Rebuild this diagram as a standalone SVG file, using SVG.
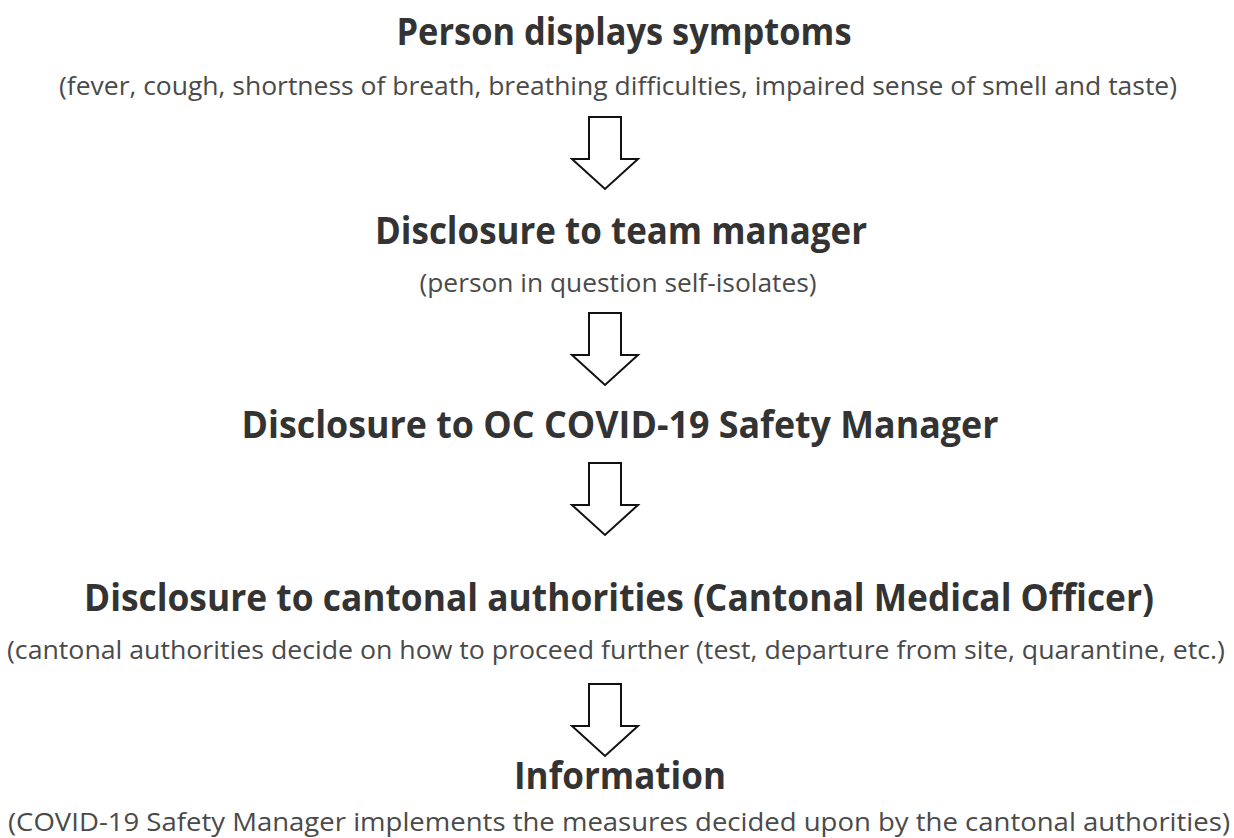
<svg xmlns="http://www.w3.org/2000/svg" width="1234" height="838" viewBox="0 0 1234 838">
<defs>
<style>
.t{font-family:"Open Sans","Liberation Sans",sans-serif;font-weight:bold;font-size:37px;fill:#333;text-anchor:middle}
.s{font-family:"Open Sans","Liberation Sans",sans-serif;font-size:25px;fill:#4a4a4a;text-anchor:middle}
.a{fill:#fff;stroke:#111;stroke-width:2;stroke-linejoin:miter}
</style>
<polygon id="arr" class="a" points="-16,0 16,0 16,42 33,42 0,72 -33,42 -16,42"/>
</defs>
<rect width="1234" height="838" fill="#fff"/>
<g id="n1">
<text class="t" x="624" y="45" textLength="455" lengthAdjust="spacingAndGlyphs">Person displays symptoms</text>
<text class="s" x="618" y="95" textLength="1118" lengthAdjust="spacingAndGlyphs">(fever, cough, shortness of breath, breathing difficulties, impaired sense of smell and taste)</text>
</g>
<g id="n2">
<text class="t" x="621" y="244" textLength="492" lengthAdjust="spacingAndGlyphs">Disclosure to team manager</text>
<text class="s" x="618" y="292" textLength="397" lengthAdjust="spacingAndGlyphs">(person in question self-isolates)</text>
</g>
<g id="n3">
<text class="t" x="620" y="438" textLength="757" lengthAdjust="spacingAndGlyphs">Disclosure to OC COVID-19 Safety Manager</text>
</g>
<g id="n4">
<text class="t" x="619" y="611" textLength="1070" lengthAdjust="spacingAndGlyphs">Disclosure to cantonal authorities (Cantonal Medical Officer)</text>
<text class="s" x="616" y="659" textLength="1218" lengthAdjust="spacingAndGlyphs">(cantonal authorities decide on how to proceed further (test, departure from site, quarantine, etc.)</text>
</g>
<g id="n5">
<text class="t" x="620" y="789" textLength="212" lengthAdjust="spacingAndGlyphs">Information</text>
<text class="s" x="619" y="831" textLength="1222" lengthAdjust="spacingAndGlyphs">(COVID-19 Safety Manager implements the measures decided upon by the cantonal authorities)</text>
</g>
<g id="connectors">
<use href="#arr" x="605" y="117"/>
<use href="#arr" x="605" y="313"/>
<use href="#arr" x="605" y="463"/>
<use href="#arr" x="605" y="684"/>
</g>
</svg>
